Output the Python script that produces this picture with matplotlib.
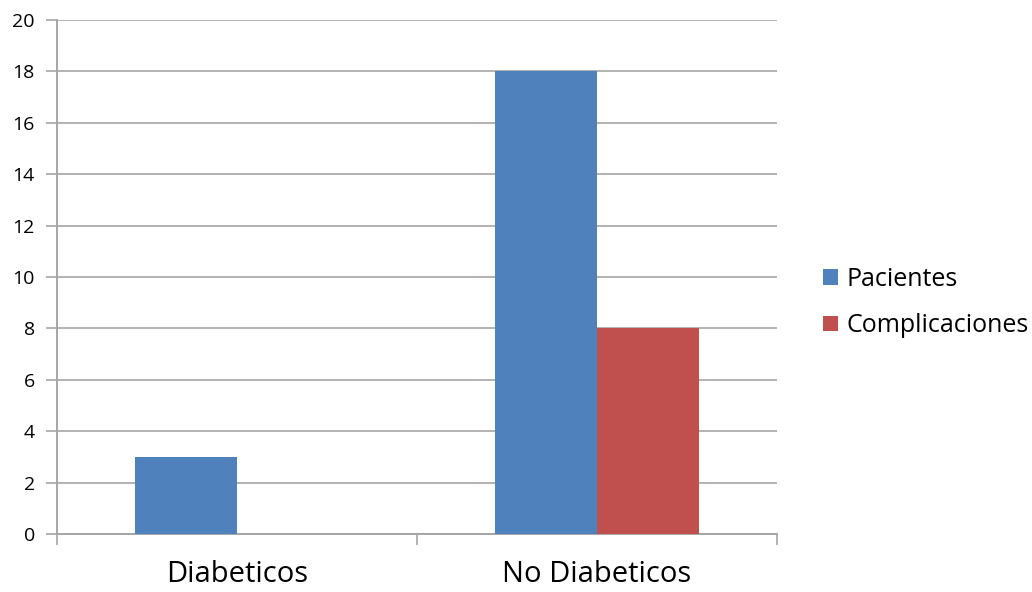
import numpy as np
import matplotlib.pyplot as plt

categories = ["Diabeticos", "No Diabeticos"]
pacientes = [3, 18]
complicaciones = [0, 8]
series_names = ["Pacientes", "Complicaciones"]

plt.rcParams['font.family'] = ['Open Sans', 'DejaVu Sans']

fig = plt.figure(figsize=(10.32, 5.92), dpi=100)
ax = fig.add_axes([57 / 1032, 58 / 592, 720 / 1032, 514 / 592])

x = np.arange(len(categories))
w = 0.283
ax.bar(x - w / 2, pacientes, w, color="#4F81BD", label=series_names[0], zorder=3)
ax.bar(x + w / 2, complicaciones, w, color="#C0504D", label=series_names[1], zorder=3)

grid_col = "#a6a6a6"
ax.set_ylim(0, 20)
ax.set_yticks(range(0, 21, 2))
ax.set_xlim(-0.5, 1.5)
ax.yaxis.grid(True, color=grid_col, linewidth=1.2, zorder=0)

ax.set_xticks([-0.5, 0.5, 1.5])
ax.set_xticklabels([])
ax.set_xticks(x, minor=True)
ax.set_xticklabels(categories, minor=True, fontsize=21)
ax.tick_params(axis="x", which="minor", length=0, pad=19)
ax.tick_params(axis="x", which="major", length=8, color=grid_col, width=1.2)
ax.tick_params(axis="y", length=8, color=grid_col, width=1.2, labelsize=14, pad=8)

for s in ["top", "right"]:
    ax.spines[s].set_visible(False)
for s in ["left", "bottom"]:
    ax.spines[s].set_color(grid_col)
    ax.spines[s].set_linewidth(1.4)

ax.legend(loc="center left", bbox_to_anchor=(1.05, 0.45), frameon=False,
          fontsize=18, handlelength=0.6, handleheight=0.6, handletextpad=0.35,
          labelspacing=0.85, borderaxespad=0)

fig.savefig("out.png", dpi=100)
